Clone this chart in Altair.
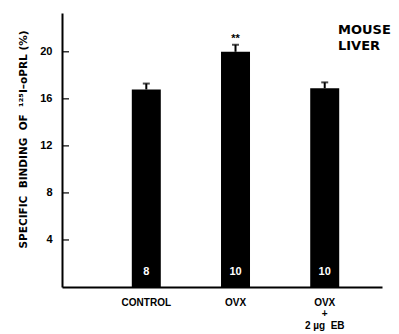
import altair as alt
import pandas as pd

groups = ["CONTROL", "OVX", "OVX|+|2 µg\u00a0\u00a0EB"]
means = [16.8, 20.0, 16.9]
sems = [0.5, 0.6, 0.5]
n_animals = ["8", "10", "10"]
signif = ["", "**", ""]
y_ticks = [4, 8, 12, 16, 20]
panel_label = ["MOUSE", "LIVER"]
y_title = "SPECIFIC\u00a0\u00a0BINDING\u00a0\u00a0OF\u00a0\u00a0¹²⁵I–oPRL\u00a0(%)"

df = pd.DataFrame({
    "group": groups,
    "mean": means,
    "sem": sems,
    "n": n_animals,
    "sig": signif,
})
df["top"] = df["mean"] + df["sem"]
ticks_df = pd.DataFrame({"t": y_ticks})

FONT = "Liberation Sans"

x_scale = alt.Scale(domain=groups, paddingInner=0.675, paddingOuter=0.631, align=0.62)
y_scale = alt.Scale(domain=[0, 23.3], nice=False, zero=True)

x_enc = alt.X(
    "group:N",
    scale=x_scale,
    sort=groups,
    axis=alt.Axis(
        title=None,
        labelAngle=0,
        ticks=False,
        labelPadding=10,
        labelFont=FONT,
        labelFontSize=10,
        labelFontWeight="bold",
        labelColor="black",
        labelBaseline="top",
        labelLineHeight=11.5,
        labelExpr="split(datum.label, '|')",
        domainColor="black",
        domainWidth=2,
    ),
)

y_enc = alt.Y(
    "mean:Q",
    scale=y_scale,
    axis=alt.Axis(
        title=y_title,
        values=y_ticks,
        ticks=False,
        grid=False,
        labelPadding=10,
        labelFont=FONT,
        labelFontSize=11,
        labelFontWeight="bold",
        labelColor="black",
        titleFont="DejaVu Sans",
        titleFontSize=10.5,
        titleFontWeight="bold",
        titleColor="black",
        titleAngle=270,
        titleX=-39,
        titleY=126,
        titleBaseline="middle",
        domainColor="black",
        domainWidth=2,
    ),
)

base = alt.Chart(df)

bars = base.mark_bar(color="black").encode(x=x_enc, y=y_enc)

err = base.mark_rule(color="black", strokeWidth=2).encode(
    x=alt.X("group:N", scale=x_scale, sort=groups),
    y=alt.Y("mean:Q", scale=y_scale),
    y2="top:Q",
)

caps = base.mark_tick(color="black", thickness=2, size=7, orient="horizontal").encode(
    x=alt.X("group:N", scale=x_scale, sort=groups),
    y=alt.Y("top:Q", scale=y_scale),
)

stars = base.mark_text(
    font=FONT, fontSize=11, fontWeight="bold", baseline="bottom", dy=-1, color="black"
).encode(
    x=alt.X("group:N", scale=x_scale, sort=groups),
    y=alt.Y("top:Q", scale=y_scale),
    text="sig:N",
)

counts = base.mark_text(
    font=FONT, fontSize=11, fontWeight="bold", baseline="middle", dy=-15, color="white"
).encode(
    x=alt.X("group:N", scale=x_scale, sort=groups),
    y=alt.datum(0, type="quantitative", scale=y_scale),
    text="n:N",
)

yticks = alt.Chart(ticks_df).mark_rule(color="black", strokeWidth=1.2).encode(
    y=alt.Y("t:Q", scale=y_scale),
    x=alt.value(0),
    x2=alt.value(7),
)

label_df = pd.DataFrame({"txt": ["\n".join(panel_label)]})
panel = alt.Chart(label_df).mark_text(
    font="DejaVu Sans", fontSize=13, fontWeight="bold", align="left", baseline="top",
    lineBreak="\n", lineHeight=16, color="black"
).encode(
    x=alt.value(276),
    y=alt.value(11),
    text="txt:N",
)

chart = alt.layer(bars, err, caps, stars, counts, yticks, panel).properties(
    width=320,
    height=274,
    padding={"left": 54, "top": 5, "right": 9, "bottom": 44},
    autosize=alt.AutoSizeParams(type="none"),
    background="white",
).configure_view(stroke=None)

chart.save("out.html", embed_options={"renderer": "svg", "actions": False})
